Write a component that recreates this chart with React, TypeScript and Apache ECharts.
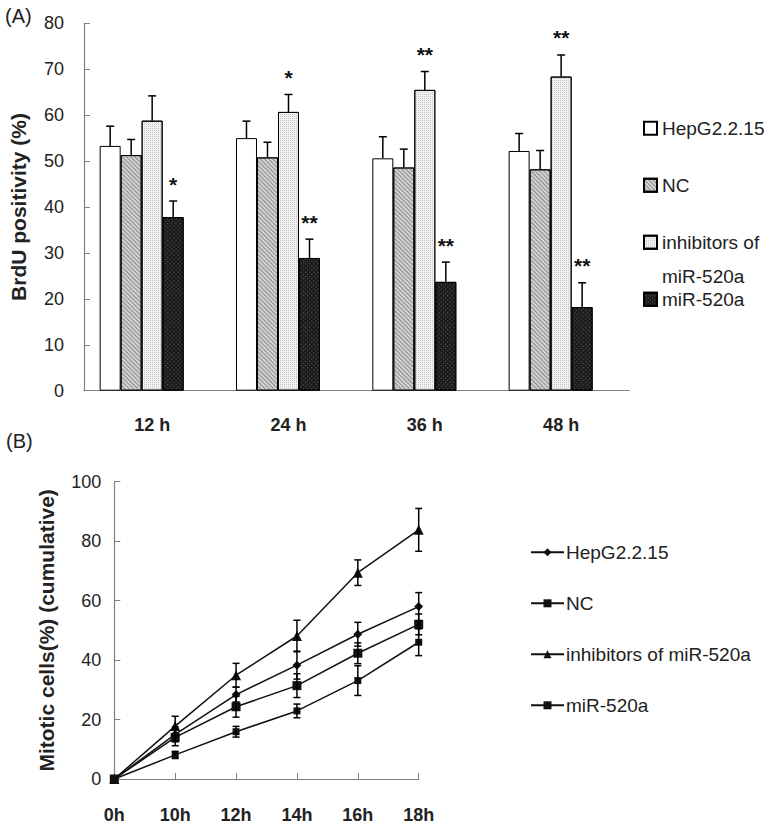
import React, { useEffect, useRef } from 'react';
import * as echarts from 'echarts';

// ---------- Panel A data ----------
const categoriesA = ['12 h', '24 h', '36 h', '48 h'];
const hepA = [53.3, 55.0, 50.6, 52.2];
const hepErrA = [4.3, 3.7, 4.7, 3.8];
const ncA = [51.3, 50.8, 48.6, 48.2];
const ncErrA = [3.4, 3.3, 4.0, 4.1];
const inhA = [58.8, 60.7, 65.5, 68.4];
const inhErrA = [5.4, 3.8, 4.0, 4.7];
const mirA = [37.8, 28.9, 23.7, 18.2];
const mirErrA = [3.5, 4.1, 4.3, 5.3];
const inhStars = ['', '*', '**', '**'];
const mirStars = ['*', '**', '**', '**'];

// ---------- Panel B data ----------
const categoriesB = ['0h', '10h', '12h', '14h', '16h', '18h'];
const hepB = [0, 15.0, 28.4, 38.3, 48.7, 58.0];
const hepErrB = [0, 2.5, 2.5, 4.7, 4.0, 4.7];
const ncB = [0, 14.0, 24.3, 31.4, 42.3, 52.0];
const ncErrB = [0, 2.8, 3.5, 4.0, 3.5, 3.5];
const inhB = [0, 17.8, 34.9, 48.1, 69.4, 83.8];
const inhErrB = [0, 3.3, 4.0, 5.3, 4.3, 7.2];
const mirB = [0, 8.1, 15.9, 22.9, 33.1, 46.0];
const mirErrB = [0, 1.2, 1.8, 2.3, 5.0, 4.5];

const TXT = '#222';
const AX = '#808080';
const FONT = 'Liberation Sans, Arial, sans-serif';
const BAR_W = 21;

function errA(vals: number[], errs: number[], slot: number, stars: string[] | null) {
  const offset = -42 + BAR_W * slot;
  return {
    type: 'custom',
    xAxisIndex: 0,
    yAxisIndex: 0,
    z: 5,
    silent: true,
    encode: { x: 0, y: [1, 2] },
    data: vals.map((v, i) => [i, v, v + errs[i]]),
    renderItem: (params: any, api: any) => {
      const idx = api.value(0);
      const p0 = api.coord([idx, api.value(1)]);
      const p1 = api.coord([idx, api.value(2)]);
      const x = p0[0] + offset;
      const children: any[] = [
        { type: 'line', shape: { x1: x, y1: p0[1], x2: x, y2: p1[1] }, style: { stroke: '#000', lineWidth: 1.5 } },
        { type: 'line', shape: { x1: x - 4, y1: p1[1], x2: x + 4, y2: p1[1] }, style: { stroke: '#000', lineWidth: 1.5 } },
      ];
      const s = stars ? stars[params.dataIndex] : '';
      if (s) {
        children.push({
          type: 'text',
          style: {
            text: s, x: x, y: p1[1] - 17, align: 'center', verticalAlign: 'middle',
            font: 'bold 21px ' + FONT, fill: '#111',
          },
        });
      }
      return { type: 'group', children };
    },
  };
}

function errB(vals: number[], errs: number[]) {
  return {
    type: 'custom',
    xAxisIndex: 1,
    yAxisIndex: 1,
    z: 5,
    silent: true,
    encode: { x: 0, y: [1, 2] },
    data: vals.map((v, i) => [i, v - errs[i], v + errs[i]]).filter((d, i) => errs[i] > 0),
    renderItem: (params: any, api: any) => {
      const idx = api.value(0);
      const lo = api.coord([idx, api.value(1)]);
      const hi = api.coord([idx, api.value(2)]);
      const x = lo[0];
      const st = { stroke: '#000', lineWidth: 1.5 };
      return {
        type: 'group',
        children: [
          { type: 'line', shape: { x1: x, y1: lo[1], x2: x, y2: hi[1] }, style: st },
          { type: 'line', shape: { x1: x - 3.5, y1: lo[1], x2: x + 3.5, y2: lo[1] }, style: st },
          { type: 'line', shape: { x1: x - 3.5, y1: hi[1], x2: x + 3.5, y2: hi[1] }, style: st },
        ],
      };
    },
  };
}

function barSeries(name: string, data: number[], color: string, decal: any) {
  return {
    type: 'bar',
    name,
    xAxisIndex: 0,
    yAxisIndex: 0,
    barWidth: BAR_W,
    barGap: '0%',
    data,
    itemStyle: { color, borderColor: '#000', borderWidth: 1, decal },
  };
}

function lineSeries(name: string, data: number[], symbol: string, size: number) {
  return {
    type: 'line',
    name,
    xAxisIndex: 1,
    yAxisIndex: 1,
    data,
    symbol,
    symbolSize: size,
    lineStyle: { color: '#111', width: 1.5 },
    itemStyle: { color: '#111' },
    z: 3,
  };
}

const option: any = {
  animation: false,
  backgroundColor: '#fff',
  textStyle: { fontFamily: FONT },
  grid: [
    { left: 84, top: 23.3, width: 545.3, height: 367.4 },
    { left: 114.3, top: 481.7, width: 304.4, height: 297.3 },
  ],
  xAxis: [
    {
      type: 'category', gridIndex: 0, data: categoriesA,
      axisLine: { lineStyle: { color: AX, width: 1.2 } },
      axisTick: { inside: true, length: 6, lineStyle: { color: AX } },
      axisLabel: { fontSize: 18, fontWeight: 'bold', color: TXT, margin: 25, fontFamily: FONT },
    },
    {
      type: 'category', gridIndex: 1, data: categoriesB, boundaryGap: false,
      axisLine: { lineStyle: { color: AX, width: 1.2 } },
      axisTick: { inside: true, length: 6, lineStyle: { color: AX } },
      axisLabel: { fontSize: 18, fontWeight: 'bold', color: TXT, margin: 27, fontFamily: FONT },
    },
  ],
  yAxis: [
    {
      type: 'value', gridIndex: 0, min: 0, max: 80, interval: 10,
      splitLine: { show: false },
      axisLine: { show: true, lineStyle: { color: AX, width: 1.2 } },
      axisTick: { show: true, inside: true, length: 6, lineStyle: { color: AX } },
      axisLabel: { fontSize: 18, color: TXT, margin: 20, fontFamily: FONT },
      name: 'BrdU positivity (%)', nameLocation: 'middle', nameGap: 55,
      nameTextStyle: { fontSize: 21, fontWeight: 'bold', color: TXT, fontFamily: FONT },
    },
    {
      type: 'value', gridIndex: 1, min: 0, max: 100, interval: 20,
      splitLine: { show: false },
      axisLine: { show: true, lineStyle: { color: AX, width: 1.2 } },
      axisTick: { show: true, inside: true, length: 6, lineStyle: { color: AX } },
      axisLabel: { fontSize: 18, color: TXT, margin: 13, fontFamily: FONT },
      name: 'Mitotic cells(%) (cumulative)', nameLocation: 'middle', nameGap: 57,
      nameTextStyle: { fontSize: 21, fontWeight: 'bold', color: TXT, fontFamily: FONT },
    },
  ],
  legend: [
    {
      orient: 'vertical', left: 638, top: 113.8, itemWidth: 13, itemHeight: 13, itemGap: 38,
      icon: 'rect',
      data: [
        { name: 'HepG2.2.15' },
        { name: 'NC' },
        { name: 'inhibitors of miR-520a A' },
        { name: 'miR-520a A' },
      ],
      formatter: (n: string) => (n === 'inhibitors of miR-520a A' ? 'inhibitors of' : n.replace(' A', '')),
      textStyle: { fontSize: 19, color: TXT, fontFamily: FONT },
      selectedMode: false,
    },
    {
      orient: 'vertical', left: 525, top: 537.8, itemWidth: 33, itemHeight: 10, itemGap: 32,
      data: [
        { name: 'HepG2.2.15 B' },
        { name: 'NC B' },
        { name: 'inhibitors of miR-520a B' },
        { name: 'miR-520a B' },
      ],
      formatter: (n: string) => n.replace(' B', ''),
      textStyle: { fontSize: 19, color: TXT, fontFamily: FONT, padding: [0, 0, 0, -3] },
      selectedMode: false,
    },
  ],
  graphic: [
    { type: 'text', left: 5, top: 6, style: { text: '(A)', font: '20px ' + FONT, fill: TXT } },
    { type: 'text', left: 6, top: 431, style: { text: '(B)', font: '20px ' + FONT, fill: TXT } },
    { type: 'text', left: 662, top: 267, style: { text: 'miR-520a', font: '19px ' + FONT, fill: TXT } },
  ],
  series: [
    barSeries('HepG2.2.15', hepA, '#ffffff', undefined),
    barSeries('NC', ncA, '#d2d2d2', {
      symbol: 'rect', symbolSize: 1, dashArrayX: [1, 0], dashArrayY: [1, 2], rotation: Math.PI / 4, color: '#8c8c8c',
    }),
    barSeries('inhibitors of miR-520a A', inhA, '#f2f2f2', {
      symbol: 'rect', symbolSize: 1, dashArrayX: [1, 1], dashArrayY: [1, 1], color: '#c4c4c4',
    }),
    barSeries('miR-520a A', mirA, '#1c1c1c', {
      symbol: 'rect', symbolSize: 1, dashArrayX: [1, 2], dashArrayY: [1, 2], rotation: Math.PI / 4, color: '#5a5a5a',
    }),
    // spacer slot (empty) so the four bars sit left of the category centre as in the original
    { type: 'bar', name: 'spacer', xAxisIndex: 0, yAxisIndex: 0, barWidth: BAR_W, barGap: '0%', data: ['-', '-', '-', '-'] },
    errA(hepA, hepErrA, 0, null),
    errA(ncA, ncErrA, 1, null),
    errA(inhA, inhErrA, 2, inhStars),
    errA(mirA, mirErrA, 3, mirStars),

    lineSeries('HepG2.2.15 B', hepB, 'diamond', 9),
    lineSeries('NC B', ncB, 'rect', 9),
    lineSeries('inhibitors of miR-520a B', inhB, 'triangle', 10),
    lineSeries('miR-520a B', mirB, 'rect', 7),
    errB(hepB, hepErrB),
    errB(ncB, ncErrB),
    errB(inhB, inhErrB),
    errB(mirB, mirErrB),
  ],
};

export default function App() {
  const ref = useRef<HTMLDivElement>(null);
  useEffect(() => {
    document.body.style.margin = '0';
    const chart = echarts.init(ref.current as HTMLDivElement, null, { renderer: 'svg' });
    chart.setOption(option);
    return () => chart.dispose();
  }, []);
  return <div ref={ref} style={{ width: 773, height: 824, background: '#fff' }} />;
}
